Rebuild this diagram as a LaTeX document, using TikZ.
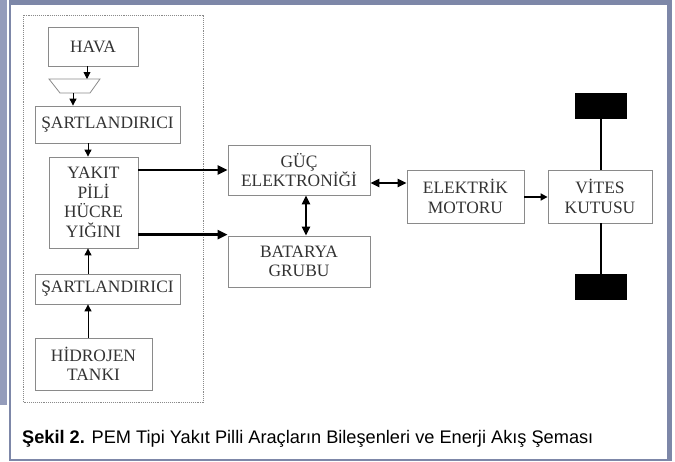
\documentclass[tikz,border=0pt]{standalone}
\usepackage{fontspec}
\setmainfont{Liberation Serif}
\newfontfamily\capfont{Liberation Sans}
\usetikzlibrary{arrows.meta,positioning}
\definecolor{frameBlue}{HTML}{7D87A8}
\definecolor{barBlue}{HTML}{949CBB}
\definecolor{boxGray}{HTML}{8A8A8A}
\definecolor{txtDark}{HTML}{333333}

\begin{document}
\begin{tikzpicture}[x=1pt, y=-1pt,
          blk/.style={draw=boxGray, line width=0.8pt, fill=white, text=txtDark,
            font=\fontsize{17.4}{19.5}\selectfont, inner sep=0pt, align=center},
          wheel/.style={fill=black, minimum width=52pt, minimum height=26pt, inner sep=0pt},
          arr/.style={-{Triangle[length=7pt,width=7pt]}, line width=0.9pt},
          tarr/.style={-{Triangle[length=10pt,width=9pt]}, line width=2.6pt},
          darr/.style={{Triangle[length=9pt,width=8pt]}-{Triangle[length=9pt,width=8pt]}, line width=2.4pt}]
        \useasboundingbox (0,0) rectangle (675,461);
        % frame
        \fill[barBlue] (0,0) rectangle (7,405);
        \fill[frameBlue] (9,0) rectangle (672,5);
        \fill[frameBlue] (667,0) rectangle (672,461);
        \fill[frameBlue] (9,459) rectangle (672,461);
        \fill[frameBlue] (9,0) rectangle (11,461);
        % fuel cell side
        \draw[boxGray, densely dotted, line width=0.9pt] (23,15) rectangle (203,402);
        \node[blk, minimum width=90pt, minimum height=39pt] (hava) at (93,46.5) {HAVA};
        \draw[boxGray, line width=0.8pt] (49,79) -- (100,79) -- (90,93) -- (60,93) -- cycle;
        \coordinate (filtin) at (87,79);
        \coordinate (filtout) at (73,93);
        \node[blk, minimum width=145pt, minimum height=37pt] (sart1) at (107.5,124.5) {ŞARTLANDIRICI};
        \node[blk, minimum width=89pt, minimum height=91pt] (yak) at (93.5,202.5) {YAKIT\\PİLİ\\HÜCRE\\YIĞINI};
        \node[blk, minimum width=145pt, minimum height=30pt] (sart2) at (107.5,289) {ŞARTLANDIRICI};
        \node[blk, minimum width=117pt, minimum height=52pt] (hid) at (93.5,364) {HİDROJEN\\TANKI};
        \coordinate (ax) at (88,0);
        \draw[arr] (hava.south -| filtin) -- (filtin);
        \draw[arr] (filtout) -- (sart1.north -| filtout);
        \draw[arr] (sart1.south -| ax) -- (yak.north -| ax);
        \draw[arr] (sart2.north -| ax) -- (yak.south -| ax);
        \draw[arr] (hid.north -| ax) -- (sart2.south -| ax);
        % drive side
        \node[blk, minimum width=142pt, minimum height=50pt] (guc) at (299,170) {GÜÇ\\ELEKTRONİĞİ};
        \node[blk, minimum width=142pt, minimum height=51pt] (bat) at (299,261.5) {BATARYA\\GRUBU};
        \node[blk, minimum width=117pt, minimum height=53pt] (em) at (465.5,196.5) {ELEKTRİK\\MOTORU};
        \node[blk, minimum width=104pt, minimum height=53pt] (vit) at (600,196.5) {VİTES\\KUTUSU};
        \node[wheel] (wtop) at (601,106) {};
        \node[wheel] (wbot) at (601,287) {};
        \draw[line width=1.6pt] (wtop.south) -- (vit.north -| wtop);
        \draw[line width=1.6pt] (vit.south -| wbot) -- (wbot.north);
        \draw[tarr] (yak.east |- guc.west) -- (guc.west);
        \draw[tarr] ([yshift=1pt]yak.east |- bat.north west) -- ([yshift=1pt]bat.north west);
        \draw[darr] ([xshift=7pt]guc.south) -- ([xshift=7pt]bat.north);
        \draw[darr] ([yshift=-13pt]guc.east) -- ([yshift=13.5pt]em.west);
        \draw[arr, line width=1.6pt] ([yshift=-0.5pt]em.east) -- ([yshift=-0.5pt]vit.west);
        % caption
        \node[anchor=base west, inner sep=0pt, text=black, font=\capfont\fontsize{18.2}{20}\selectfont] (cap) at (22,443)
          {\textbf{Şekil 2.} PEM Tipi Yakıt Pilli Araçların Bileşenleri ve Enerji Akış Şeması};
      \end{tikzpicture}
\end{document}
